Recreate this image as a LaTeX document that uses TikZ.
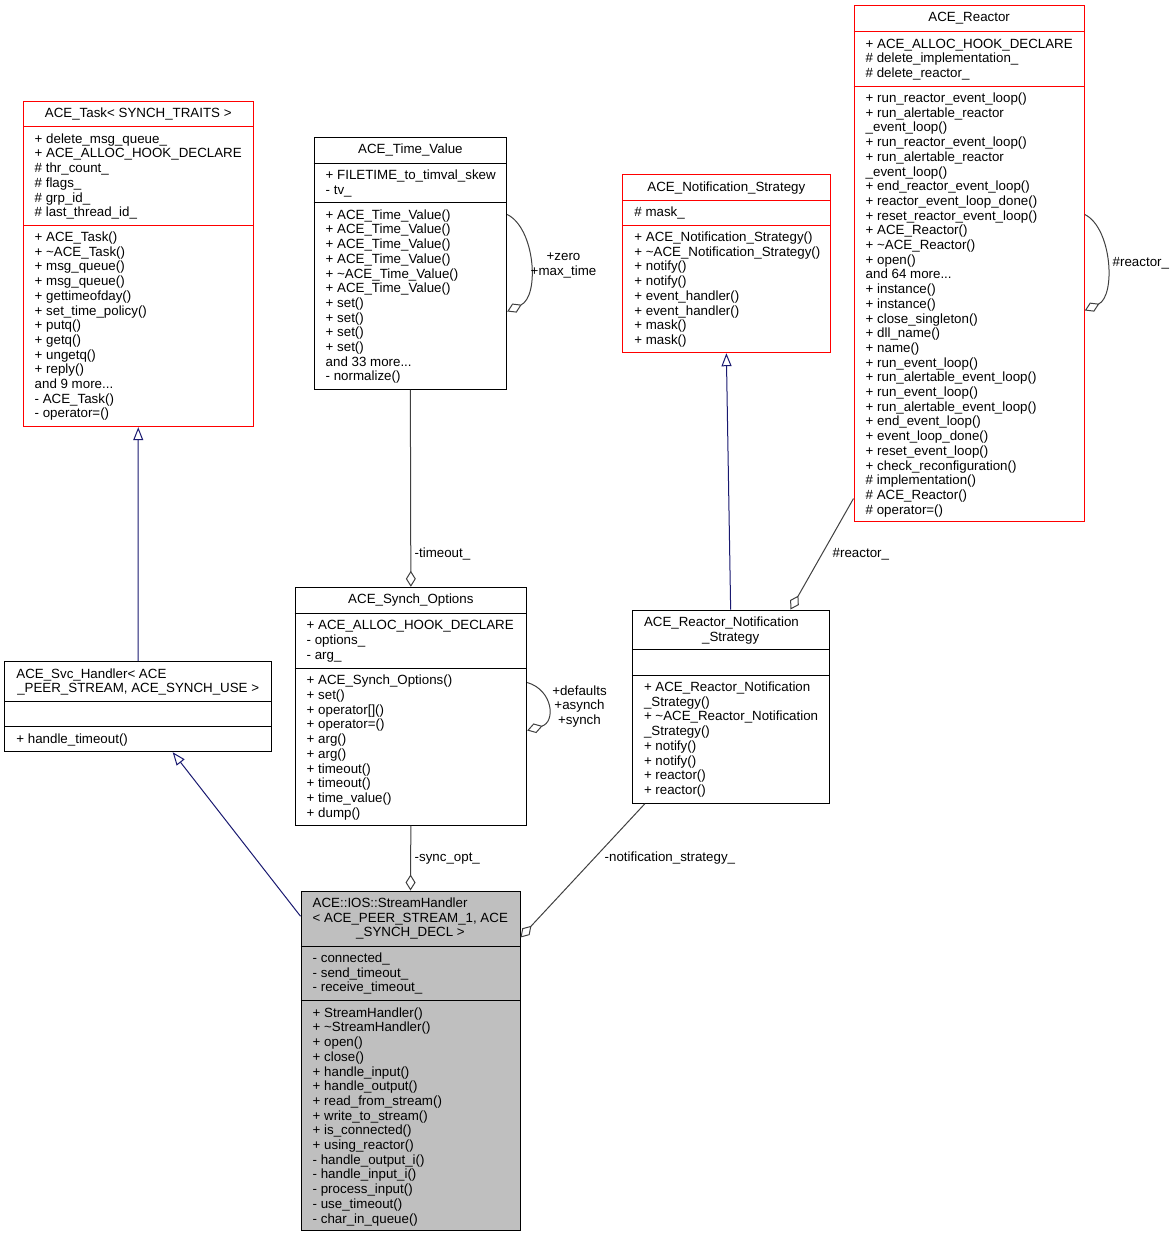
\documentclass[tikz,border=0pt]{standalone}
\usepackage{fontspec}
\setmainfont{Liberation Sans}
\usetikzlibrary{arrows.meta}
\definecolor{edgegray}{HTML}{404040}
\definecolor{inhblue}{HTML}{191970}
\definecolor{shgray}{HTML}{BFBFBF}
\newcommand\dxfont{\fontsize{13.33}{14.7}\selectfont}
\newcommand\tld{\textasciitilde}
\begin{document}
\begin{tikzpicture}[x=1pt,y=-1pt,
 cls/.style={draw=black,line width=1pt,fill=white,inner sep=0pt,rectangle},
 rcls/.style={cls,draw=red},
 gcls/.style={cls,fill=shgray},
 sep/.style={line width=1pt,draw=black},
 rsep/.style={line width=1pt,draw=red},
 txt/.style={anchor=base west,inner sep=0pt,align=left,font=\dxfont},
 ttl/.style={anchor=base,inner sep=0pt,align=center,font=\dxfont},
 agg/.style={draw=edgegray,line width=1pt,-{Diamond[open,length=16pt,width=10pt]}},
 inh/.style={draw=inhblue,line width=1pt,-{Triangle[open,length=13pt,width=10pt]}}]
\useasboundingbox (0,0) rectangle (1172,1237);
% note: for multi-line nodes the base anchor is the baseline of the LAST line

% ---------------- boxes ----------------
\node[rcls,minimum width=229.5pt,minimum height=325.7pt] (task) at (138.25,263.85) {};
\draw[rsep] (task.west |- 0,126.7) -- (task.east |- 0,126.7);
\draw[rsep] (task.west |- 0,225) -- (task.east |- 0,225);
\node[ttl] (tasktitle) at (138.25,117.5) {ACE\_Task< SYNCH\_TRAITS >};
\node[txt] (taskattr) at (34.5,216.7) {+ delete\_msg\_queue\_\\+ ACE\_ALLOC\_HOOK\_DECLARE\\\# thr\_count\_\\\# flags\_\\\# grp\_id\_\\\# last\_thread\_id\_};
\node[txt] (taskmeth) at (34.5,417.9) {+ ACE\_Task()\\+ \tld ACE\_Task()\\+ msg\_queue()\\+ msg\_queue()\\+ gettimeofday()\\+ set\_time\_policy()\\+ putq()\\+ getq()\\+ ungetq()\\+ reply()\\and 9 more...\\- ACE\_Task()\\- operator=()};

\node[cls,minimum width=192.7pt,minimum height=252pt] (timevalue) at (410.35,263.3) {};
\draw[sep] (timevalue.west |- 0,163.3) -- (timevalue.east |- 0,163.3);
\draw[sep] (timevalue.west |- 0,202.7) -- (timevalue.east |- 0,202.7);
\node[ttl] (tvtitle) at (410.35,153.8) {ACE\_Time\_Value};
\node[txt] (tvattr) at (325.5,194.5) {+ FILETIME\_to\_timval\_skew\\- tv\_};
\node[txt] (tvmeth) at (325.5,380.9) {+ ACE\_Time\_Value()\\+ ACE\_Time\_Value()\\+ ACE\_Time\_Value()\\+ ACE\_Time\_Value()\\+ \tld ACE\_Time\_Value()\\+ ACE\_Time\_Value()\\+ set()\\+ set()\\+ set()\\+ set()\\and 33 more...\\- normalize()};

\node[rcls,minimum width=207.3pt,minimum height=178pt] (ns) at (726.35,263.7) {};
\draw[rsep] (ns.west |- 0,200) -- (ns.east |- 0,200);
\draw[rsep] (ns.west |- 0,225) -- (ns.east |- 0,225);
\node[ttl] (nstitle) at (726.35,191.2) {ACE\_Notification\_Strategy};
\node[txt] (nsattr) at (634.2,216.5) {\# mask\_};
\node[txt] (nsmeth) at (634.2,344.4) {+ ACE\_Notification\_Strategy()\\+ \tld ACE\_Notification\_Strategy()\\+ notify()\\+ notify()\\+ event\_handler()\\+ event\_handler()\\+ mask()\\+ mask()};

\node[rcls,minimum width=230.3pt,minimum height=516.4pt] (reactor) at (969.15,263.5) {};
\draw[rsep] (reactor.west |- 0,31.7) -- (reactor.east |- 0,31.7);
\draw[rsep] (reactor.west |- 0,86) -- (reactor.east |- 0,86);
\node[ttl] (rtitle) at (969.15,21.8) {ACE\_Reactor};
\node[txt] (rattr) at (865.5,77.6) {+ ACE\_ALLOC\_HOOK\_DECLARE\\\# delete\_implementation\_\\\# delete\_reactor\_};
\node[txt] (rmeth) at (865.5,514.1) {+ run\_reactor\_event\_loop()\\+ run\_alertable\_reactor\\\_event\_loop()\\+ run\_reactor\_event\_loop()\\+ run\_alertable\_reactor\\\_event\_loop()\\+ end\_reactor\_event\_loop()\\+ reactor\_event\_loop\_done()\\+ reset\_reactor\_event\_loop()\\+ ACE\_Reactor()\\+ \tld ACE\_Reactor()\\+ open()\\and 64 more...\\+ instance()\\+ instance()\\+ close\_singleton()\\+ dll\_name()\\+ name()\\+ run\_event\_loop()\\+ run\_alertable\_event\_loop()\\+ run\_event\_loop()\\+ run\_alertable\_event\_loop()\\+ end\_event\_loop()\\+ event\_loop\_done()\\+ reset\_event\_loop()\\+ check\_reconfiguration()\\\# implementation()\\\# ACE\_Reactor()\\\# operator=()};

\node[cls,minimum width=267pt,minimum height=90pt] (svc) at (138.2,706.7) {};
\draw[sep] (svc.west |- 0,701.7) -- (svc.east |- 0,701.7);
\draw[sep] (svc.west |- 0,726.7) -- (svc.east |- 0,726.7);
\node[txt] (svctitlea) at (16.2,678.2) {ACE\_Svc\_Handler< ACE};
\node[ttl] (svctitleb) at (138.2,692.9) {\_PEER\_STREAM, ACE\_SYNCH\_USE >};
\node[txt] (svcmeth) at (16.2,743.2) {+ handle\_timeout()};

\node[cls,minimum width=231.7pt,minimum height=237.7pt] (synch) at (410.85,706.15) {};
\draw[sep] (synch.west |- 0,613.3) -- (synch.east |- 0,613.3);
\draw[sep] (synch.west |- 0,668.3) -- (synch.east |- 0,668.3);
\node[ttl] (sotitle) at (410.85,603.8) {ACE\_Synch\_Options};
\node[txt] (soattr) at (306.5,659.2) {+ ACE\_ALLOC\_HOOK\_DECLARE\\- options\_\\- arg\_};
\node[txt] (someth) at (306.5,817.1) {+ ACE\_Synch\_Options()\\+ set()\\+ operator[]()\\+ operator=()\\+ arg()\\+ arg()\\+ timeout()\\+ timeout()\\+ time\_value()\\+ dump()};

\node[cls,minimum width=196.7pt,minimum height=193.3pt] (rns) at (730.65,706.65) {};
\draw[sep] (rns.west |- 0,649.3) -- (rns.east |- 0,649.3);
\draw[sep] (rns.west |- 0,675) -- (rns.east |- 0,675);
\node[txt] (rnstitlea) at (643.8,626.5) {ACE\_Reactor\_Notification};
\node[ttl] (rnstitleb) at (730.65,641.2) {\_Strategy};
\node[txt] (rnsmeth) at (643.8,794.4) {+ ACE\_Reactor\_Notification\\\_Strategy()\\+ \tld ACE\_Reactor\_Notification\\\_Strategy()\\+ notify()\\+ notify()\\+ reactor()\\+ reactor()};

\node[gcls,minimum width=219pt,minimum height=339.7pt] (sh) at (410.5,1060.85) {};
\draw[sep] (sh.west |- 0,946) -- (sh.east |- 0,946);
\draw[sep] (sh.west |- 0,1000.7) -- (sh.east |- 0,1000.7);
\node[txt] (shtitlea) at (312.5,922.2) {ACE::IOS::StreamHandler\\< ACE\_PEER\_STREAM\_1, ACE};
\node[ttl] (shtitleb) at (410.5,936.9) {\_SYNCH\_DECL >};
\node[txt] (shattr) at (312.5,991.9) {- connected\_\\- send\_timeout\_\\- receive\_timeout\_};
\node[txt] (shmeth) at (312.5,1223.0) {+ StreamHandler()\\+ \tld StreamHandler()\\+ open()\\+ close()\\+ handle\_input()\\+ handle\_output()\\+ read\_from\_stream()\\+ write\_to\_stream()\\+ is\_connected()\\+ using\_reactor()\\- handle\_output\_i()\\- handle\_input\_i()\\- process\_input()\\- use\_timeout()\\- char\_in\_queue()};

% ---------------- connectors ----------------
\draw[inh] (svc.north) -- (task.south);
\draw[inh] ([yshift=-25.7pt]sh.north west) -- ([xshift=34.5pt]svc.south);
\draw[inh] (rns.north) -- (ns.south);

\draw[agg] (timevalue.south) -- (synch.north);
\draw[agg] (synch.south) -- (sh.north);
\draw[agg] ([xshift=13pt]rns.south west) -- ([yshift=-47pt]sh.north east);
\draw[agg] ([yshift=23.7pt]reactor.south west) -- ([xshift=-39pt]rns.north east);

\draw[agg] ([yshift=-77.7pt]timevalue.north east) .. controls (535,228) and (540,296) .. ([yshift=-174.7pt]timevalue.north east);
\draw[agg] ([yshift=-95.7pt]synch.north east) .. controls (553,690) and (556,722) .. ([yshift=-143.7pt]synch.north east);
\draw[agg] ([yshift=-209.7pt]reactor.north east) .. controls (1112,228) and (1116,296) .. ([yshift=-305.7pt]reactor.north east);

% ---------------- labels ----------------
\node[ttl] (lbltv) at (563.5,275.2) {+zero\\+max\_time};
\node[ttl] (lblso) at (579.5,724.4) {+defaults\\+asynch\\+synch};
\node[txt] (lblrself) at (1112.5,266.5) {\#reactor\_};
\node[txt] (lblr) at (832.5,557.5) {\#reactor\_};
\node[txt] (lbltimeout) at (414.5,557.5) {-timeout\_};
\node[txt] (lblsync) at (414.5,861.5) {-sync\_opt\_};
\node[txt] (lblnotif) at (604.5,861.5) {-notification\_strategy\_};
\end{tikzpicture}
\end{document}
